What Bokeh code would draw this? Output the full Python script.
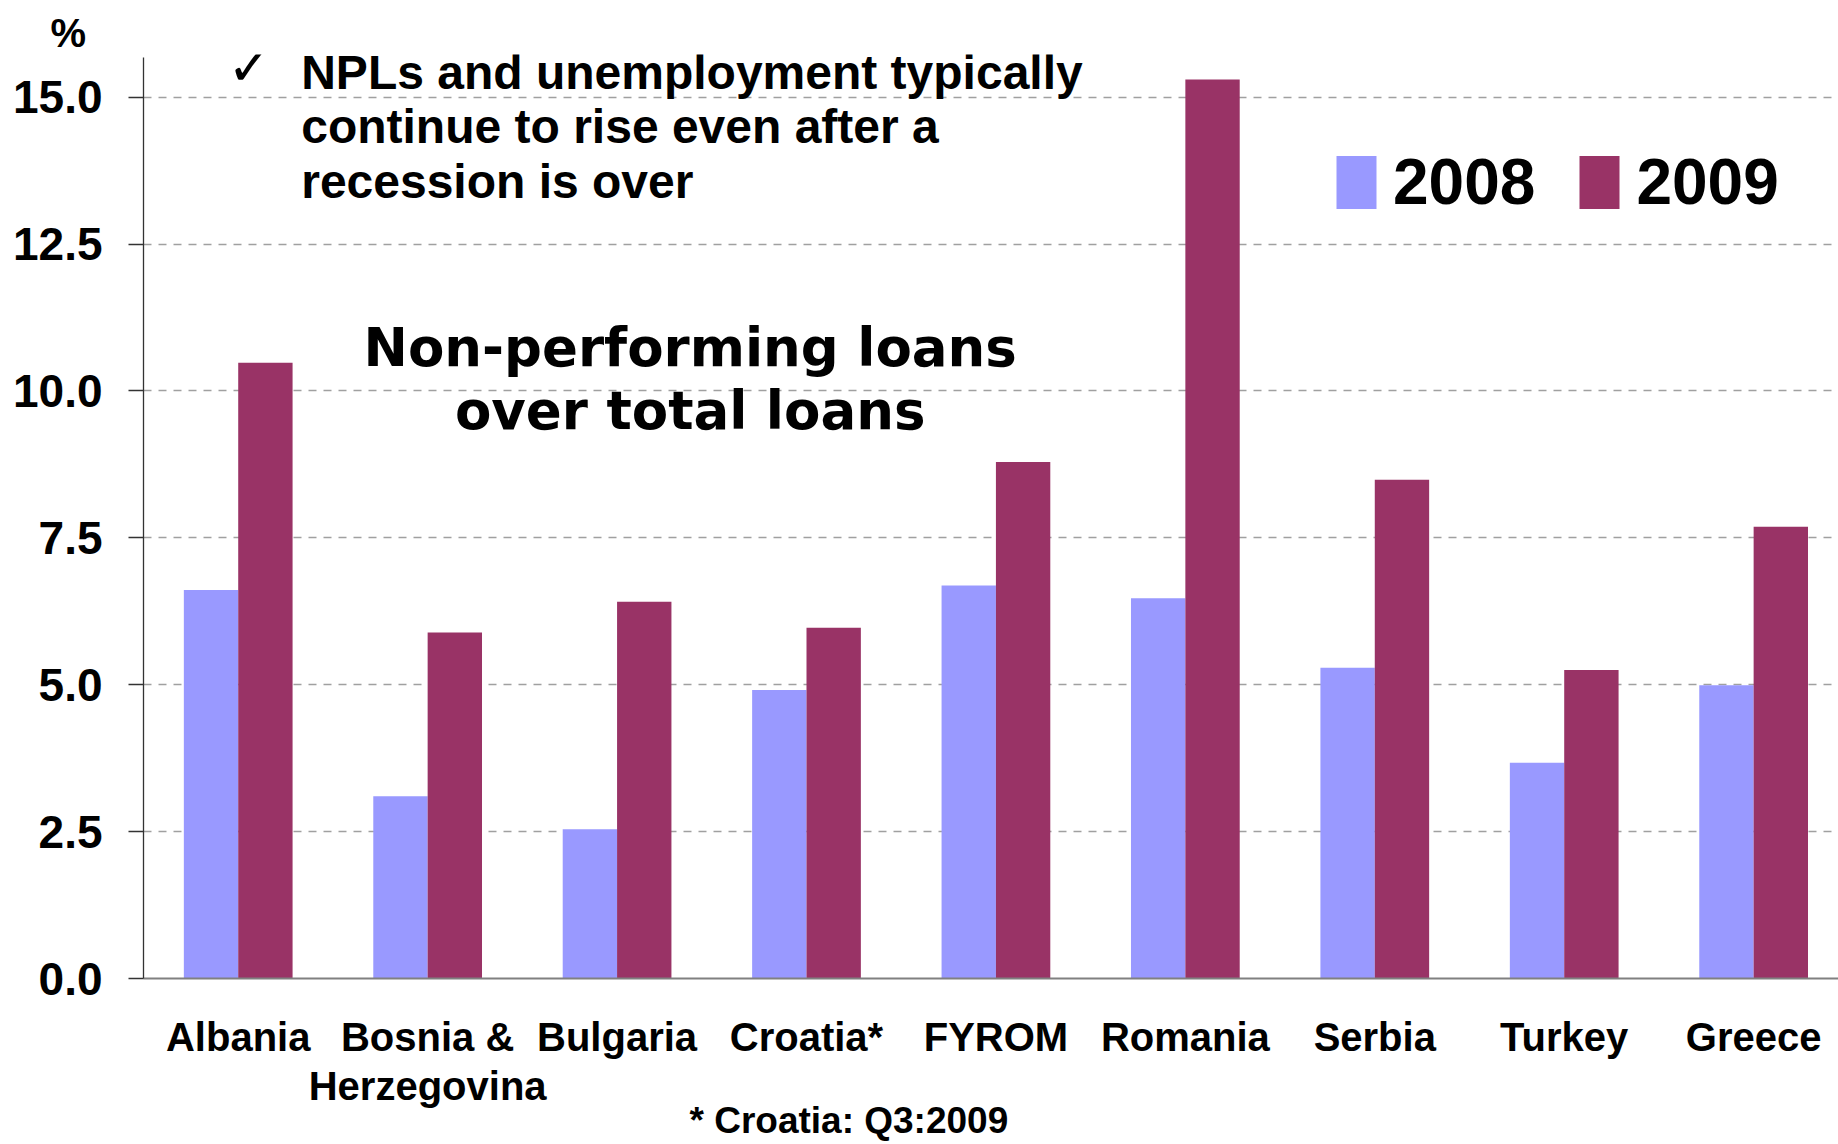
import numpy as np
from bokeh.plotting import figure
from bokeh.models import (Range1d, FixedTicker, NumeralTickFormatter, Label,
                          Legend, LegendItem, ColumnDataSource, Title)
from bokeh.embed import file_html
from bokeh.resources import INLINE

# ---- data ----
countries = ["Albania", "Bosnia &\nHerzegovina", "Bulgaria", "Croatia*", "FYROM",
             "Romania", "Serbia", "Turkey", "Greece"]
npl_2008 = [6.61, 3.10, 2.54, 4.91, 6.69, 6.47, 5.29, 3.67, 4.99]
npl_2009 = [10.48, 5.89, 6.41, 5.97, 8.79, 15.30, 8.49, 5.25, 7.69]
y_ticks = [0, 2.5, 5.0, 7.5, 10.0, 12.5, 15.0]
series_names = ["2008", "2009"]
colors = ["#9999FF", "#993366"]

BOLD = "Liberation Sans"
centers = np.arange(len(countries)) + 0.5
bw = 0.287

p = figure(width=1838, height=1144, output_backend="svg", toolbar_location=None,
           x_range=Range1d(0, 8.948), y_range=Range1d(0, 15.726),
           min_border_left=143, min_border_right=0, min_border_top=54, min_border_bottom=166)
p.outline_line_color = None
p.background_fill_color = "white"
p.border_fill_color = "white"

src = ColumnDataSource(dict(x08=centers - bw / 2, x09=centers + bw / 2,
                            v08=npl_2008, v09=npl_2009))
r08 = p.vbar(x="x08", top="v08", width=bw, source=src, fill_color=colors[0], line_color=None)
r09 = p.vbar(x="x09", top="v09", width=bw, source=src, fill_color=colors[1], line_color=None)

# axes
p.xaxis.ticker = FixedTicker(ticks=list(centers))
p.xaxis.major_label_overrides = {float(c): n for c, n in zip(centers, countries)}
p.xaxis.major_tick_line_color = None
p.xaxis.minor_tick_line_color = None
p.xaxis.axis_line_color = "#808080"
p.xaxis.axis_line_width = 2
p.xaxis.major_label_text_font = BOLD
p.xaxis.major_label_text_font_style = "bold"
p.xaxis.major_label_text_font_size = "40px"
p.xaxis.major_label_text_color = "black"
p.xaxis.major_label_text_line_height = 1.12
p.xaxis.major_label_standoff = 30

p.yaxis.ticker = FixedTicker(ticks=y_ticks)
p.yaxis.bounds = (0, 15.68)
p.yaxis.formatter = NumeralTickFormatter(format="0.0")
p.yaxis.major_tick_out = 15
p.yaxis.major_tick_in = 0
p.yaxis.minor_tick_line_color = None
p.yaxis.axis_line_color = "#333333"
p.yaxis.axis_line_width = 1.3
p.yaxis.major_tick_line_color = "#333333"
p.yaxis.major_tick_line_width = 1.3
p.yaxis.major_label_text_font = BOLD
p.yaxis.major_label_text_font_style = "bold"
p.yaxis.major_label_text_font_size = "46px"
p.yaxis.major_label_text_color = "black"
p.yaxis.major_label_standoff = 26

p.xgrid.grid_line_color = None
p.ygrid.grid_line_color = "#A0A0A0"
p.ygrid.grid_line_width = 1.5
p.ygrid.grid_line_dash = "8 7"

# legend
legend = Legend(items=[LegendItem(label=series_names[0], renderers=[r08]),
                       LegendItem(label=series_names[1], renderers=[r09])],
                orientation="horizontal", location=(1188, 759),
                glyph_width=50, glyph_height=66, label_standoff=12, spacing=39,
                label_text_font=BOLD, label_text_font_style="bold",
                label_text_font_size="64px", label_text_color="black",
                border_line_color=None, background_fill_alpha=0, padding=0, margin=0)
p.add_layout(legend)

# unit label above the axis and footnote below
pct = Title(text="%", align="left", offset=-93, standoff=0, text_font=BOLD,
            text_font_style="bold", text_font_size="40px", text_color="black")
p.add_layout(pct, "above")
foot = Title(text="* Croatia: Q3:2009", align="left", offset=546, standoff=-25, text_font=BOLD,
             text_font_style="bold", text_font_size="37px", text_color="black")
p.add_layout(foot, "below")

def lab(x, y, text, size, font=BOLD, align="left", style="bold"):
    p.add_layout(Label(x=x, y=y, x_units="screen", y_units="screen", text=text,
                       text_font=font, text_font_size=size, text_font_style=style,
                       text_align=align, text_baseline="alphabetic", text_color="black"))

F0 = 977.7  # frame bottom in canvas px
L0 = 143.3  # frame left in canvas px

# checkmark and note
lab(227 - L0, F0 - 66, "\u2713", "54px", font="DejaVu Sans", style="normal")
note = ["NPLs and unemployment typically", "continue to rise even after a", "recession is over"]
note_base = [88, 142, 197]
for t, b in zip(note, note_base):
    lab(301 - L0, F0 - b + 16, t, "48px")
# title
title_lines = ["Non-performing loans", "over total loans"]
for i, t in enumerate(title_lines):
    lab(690 - L0, F0 - (366 + 63 * i) + 19, t, "53px", font="DejaVu Sans", align="center")

open("out.html", "w").write(file_html(p, INLINE))
